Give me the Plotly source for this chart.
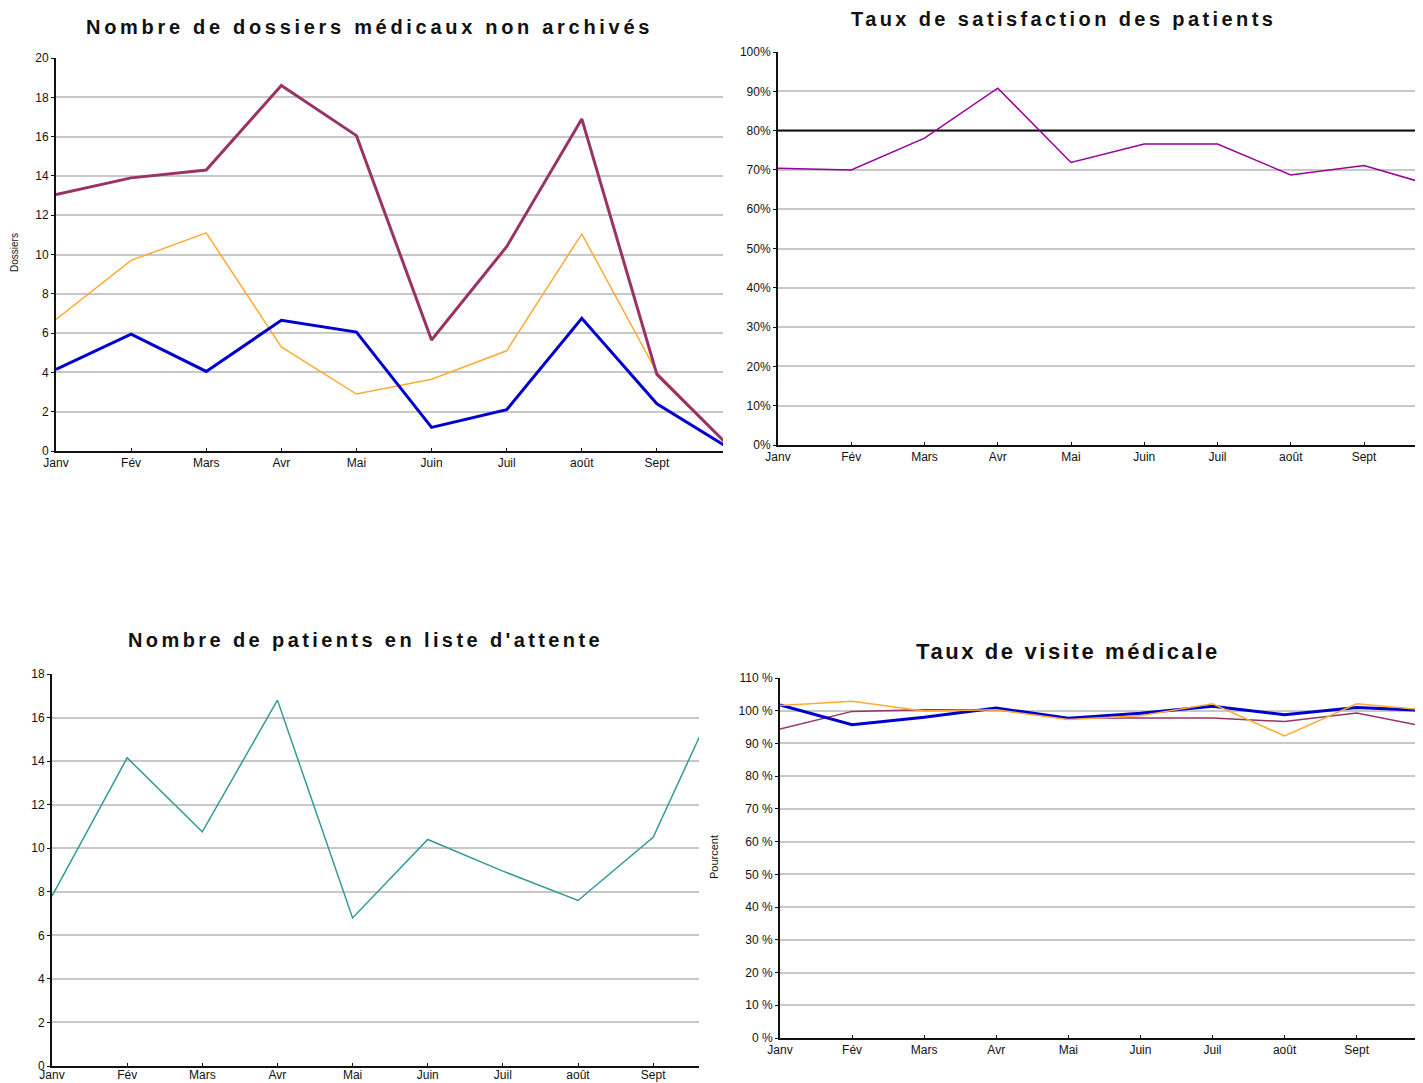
import plotly.graph_objects as go

# page size and the page offset of the figure (default body margin)
PAGE_W, PAGE_H = 1423, 1083
OFF = 8
W, H = PAGE_W - OFF, PAGE_H - OFF

months = ["Janv", "Fév", "Mars", "Avr", "Mai", "Juin", "Juil", "août", "Sept", "Oct"]

# Chart 1 - Nombre de dossiers médicaux non archivés
dossiers_violet = [13.05, 13.9, 14.3, 18.6, 16.05, 5.65, 10.4, 16.9, 3.9, 0.1]
dossiers_orange = [6.7, 9.7, 11.1, 5.3, 2.9, 3.65, 5.1, 11.05, 4.0, 0.1]
dossiers_bleu = [4.15, 5.95, 4.05, 6.65, 6.05, 1.2, 2.1, 6.75, 2.4, 0.05]

# Chart 2 - Taux de satisfaction des patients (%)
satisfaction = [70.4, 70.0, 78.1, 90.8, 71.9, 76.6, 76.6, 68.7, 71.1, 65.7]
satisfaction_cible = 80

# Chart 3 - Nombre de patients en liste d'attente
attente = [7.8, 14.15, 10.75, 16.8, 6.8, 10.4, 8.95, 7.6, 10.5, 18.0]

# Chart 4 - Taux de visite médicale (%)
visite_bleu = [101.8, 95.7, 98.0, 100.8, 97.7, 99.2, 101.4, 98.8, 101.0, 100.0]
visite_orange = [101.6, 102.9, 99.9, 100.3, 97.3, 98.5, 102.1, 92.3, 102.1, 100.2]
visite_violet = [94.4, 99.8, 100.3, 100.3, 97.8, 97.8, 97.8, 96.7, 99.3, 95.0]

C_VIOLET = "#993366"
C_ORANGE = "#FFAA33"
C_BLEU = "#0000CC"
C_MAGENTA = "#990099"
C_TEAL = "#339999"


def px_x(v):
    return min(1.0, max(0.0, (v - OFF) / W))


def px_y(v):
    return min(1.0, max(0.0, 1 - (v - OFF) / H))


fig = go.Figure()

panels = [
    # (xaxis, yaxis, x page-px domain, y page-px domain (top,bottom), xrange end, yrange, dtick, suffix, x label standoff)
    ("x", "y", (56, 723), (58, 451), 8.88, (0, 20), 2, "", 0),
    ("x2", "y2", (778, 1423), (52, 445), 8.805, (0, 100), 10, "%", 0),
    ("x3", "y3", (52, 699), (674, 1066), 8.61, (0, 18), 2, "", -3),
    ("x4", "y4", (780, 1423), (678, 1038), 8.92, (0, 110), 10, " %", 0),
]

tickfont = dict(family="Liberation Sans, Arial, sans-serif", size=12, color="#111111")

for xa, ya, (x0, x1), (yt, yb), xend, yr, dt, suf, xso in panels:
    xkey = "xaxis" if xa == "x" else "xaxis" + xa[1:]
    ykey = "yaxis" if ya == "y" else "yaxis" + ya[1:]
    fig.layout[xkey] = dict(
        domain=[px_x(x0), px_x(x1)],
        anchor=ya,
        type="category",
        range=[0, xend],
        showgrid=False,
        showline=True,
        linecolor="#111111",
        linewidth=2,
        ticks="inside",
        ticklen=3,
        tickcolor="#111111",
        tickfont=tickfont,
        ticklabelstandoff=xso,
        zeroline=False,
        automargin=False,
        fixedrange=True,
    )
    fig.layout[ykey] = dict(
        domain=[px_y(yb), px_y(yt)],
        anchor=xa,
        range=list(yr),
        dtick=dt,
        tick0=0,
        ticksuffix=suf,
        showgrid=True,
        gridcolor="#C8C8C8",
        gridwidth=2,
        showline=True,
        linecolor="#111111",
        linewidth=2,
        ticks="outside",
        ticklen=3,
        tickcolor="#111111",
        tickfont=tickfont,
        zeroline=False,
        automargin=False,
        fixedrange=True,
    )

# Chart 1 traces
fig.add_trace(go.Scatter(x=months, y=dossiers_orange, mode="lines",
                         line=dict(color=C_ORANGE, width=1.5), xaxis="x", yaxis="y"))
fig.add_trace(go.Scatter(x=months, y=dossiers_violet, mode="lines",
                         line=dict(color=C_VIOLET, width=3), xaxis="x", yaxis="y"))
fig.add_trace(go.Scatter(x=months, y=dossiers_bleu, mode="lines",
                         line=dict(color=C_BLEU, width=3), xaxis="x", yaxis="y"))

# Chart 2 traces
fig.add_trace(go.Scatter(x=months, y=[satisfaction_cible] * len(months), mode="lines",
                         line=dict(color="#111111", width=2), xaxis="x2", yaxis="y2"))
fig.add_trace(go.Scatter(x=months, y=satisfaction, mode="lines",
                         line=dict(color=C_MAGENTA, width=1.5), xaxis="x2", yaxis="y2"))

# Chart 3 traces
fig.add_trace(go.Scatter(x=months, y=attente, mode="lines",
                         line=dict(color=C_TEAL, width=1.5), xaxis="x3", yaxis="y3"))

# Chart 4 traces
fig.add_trace(go.Scatter(x=months, y=visite_violet, mode="lines",
                         line=dict(color=C_VIOLET, width=1.5), xaxis="x4", yaxis="y4"))
fig.add_trace(go.Scatter(x=months, y=visite_bleu, mode="lines",
                         line=dict(color=C_BLEU, width=3), xaxis="x4", yaxis="y4"))
fig.add_trace(go.Scatter(x=months, y=visite_orange, mode="lines",
                         line=dict(color=C_ORANGE, width=1.5), xaxis="x4", yaxis="y4"))


def spaced(t, ls):
    return '<span style="letter-spacing:%gpx"><b>%s</b></span>' % (ls, t)


titles = [
    ("Nombre de dossiers médicaux non archivés", 369, 27, 3.7, 20),
    ("Taux de satisfaction des patients", 1063, 19, 3.4, 20),
    ("Nombre de patients en liste d'attente", 365, 640, 3.4, 20),
    ("Taux de visite médicale", 1068, 651, 2.6, 22),
]
for t, cx, cy, ls, fs in titles:
    fig.add_annotation(text=spaced(t, ls), x=px_x(cx), y=px_y(cy), xref="paper", yref="paper",
                       xanchor="center", yanchor="middle", showarrow=False,
                       font=dict(family="Liberation Sans, Arial, sans-serif", size=fs, color="#111111"))

fig.add_annotation(text="Dossiers", x=px_x(15), y=px_y(253), xref="paper", yref="paper",
                   textangle=-90, showarrow=False, xanchor="center", yanchor="middle",
                   font=dict(family="Liberation Sans, Arial, sans-serif", size=10, color="#111111"))
fig.add_annotation(text="Pourcent", x=px_x(714), y=px_y(857), xref="paper", yref="paper",
                   textangle=-90, showarrow=False, xanchor="center", yanchor="middle",
                   font=dict(family="Liberation Sans, Arial, sans-serif", size=11, color="#111111"))

fig.update_layout(
    width=W, height=H,
    margin=dict(l=0, r=0, t=0, b=0, autoexpand=False),
    paper_bgcolor="white",
    plot_bgcolor="white",
    showlegend=False,
)

fig.write_html("out.html")
